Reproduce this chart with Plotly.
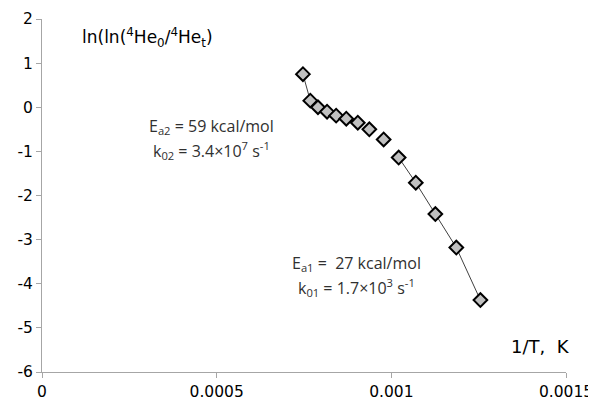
import plotly.graph_objects as go

inv_T = [0.000747, 0.000768, 0.000790, 0.000816, 0.000842, 0.000871, 0.000904,
         0.000937, 0.000978, 0.001021, 0.001070, 0.001126, 0.001186, 0.001255]
ln_ln = [0.75, 0.15, 0.00, -0.10, -0.19, -0.26, -0.35,
         -0.50, -0.73, -1.14, -1.71, -2.42, -3.18, -4.37]

x_ticks = [0, 0.0005, 0.001, 0.0015]
x_tick_text = ["0", "0.0005", "0.001", "0.0015"]
y_ticks = [2, 1, 0, -1, -2, -3, -4, -5, -6]
y_tick_text = ["2", "1", "0", "-1", "-2", "-3", "-4", "-5", "-6"]

fig = go.Figure()
# fit segments
fig.add_trace(go.Scatter(x=inv_T[:2], y=ln_ln[:2], mode="lines",
                         line=dict(color="#404040", width=1), showlegend=False))
fig.add_trace(go.Scatter(x=inv_T[9:], y=ln_ln[9:], mode="lines",
                         line=dict(color="#404040", width=1), showlegend=False))
fig.add_trace(go.Scatter(x=inv_T, y=ln_ln, mode="markers",
                         marker=dict(symbol="diamond", size=10.5, color="#c0c0c0",
                                     line=dict(color="black", width=2)),
                         showlegend=False))

# page has an 8px body margin, so the figure is laid out in page coords - 8
OFF = 8
PL, PR, PT, PB = 42 - OFF, 566 - OFF, 19 - OFF, 372 - OFF
W, H = 588, 393
PW, PH = PR - PL, PB - PT


def px(x):
    return (x - OFF - PL) / PW


def py(y):
    return (PB - (y - OFF)) / PH


axis_font = dict(family="DejaVu Sans", size=15.5, color="black")
fig.update_layout(
    template="none",
    width=W, height=H,
    margin=dict(l=PL, r=W - PR, t=PT, b=H - PB, pad=0),
    paper_bgcolor="white", plot_bgcolor="white",
    xaxis=dict(range=[0, 0.0015], tickvals=x_ticks, ticktext=x_tick_text,
               showgrid=False, zeroline=False, showline=True, linecolor="#a6a6a6",
               linewidth=1, ticks="outside", ticklen=5, tickcolor="#a6a6a6",
               tickfont=axis_font, automargin=False),
    yaxis=dict(range=[-6, 2], tickvals=y_ticks, ticktext=y_tick_text,
               showgrid=False, zeroline=False,
               showline=True, linecolor="#a6a6a6", linewidth=1, ticks="outside",
               ticklen=5, tickcolor="#a6a6a6", tickfont=axis_font, automargin=False),
    font=dict(family="DejaVu Sans", color="black"),
)

ann_font = dict(family="Open Sans", size=16, color="#303030")
fig.add_annotation(xref="paper", yref="paper", x=px(147), y=py(38),
                   text="ln(ln(<sup>4</sup>He<sub>0</sub>/<sup>4</sup>He<sub>t</sub>)",
                   showarrow=False, xanchor="center", yanchor="middle",
                   font=dict(family="DejaVu Sans", size=17, color="black"))
fig.add_annotation(xref="paper", yref="paper", x=px(540), y=py(346),
                   text="1/T,  K", showarrow=False, xanchor="center", yanchor="middle",
                   font=dict(family="DejaVu Sans", size=18, color="black"))

labels = [
    (211, 127, "E<sub>a2</sub> = 59 kcal/mol"),
    (211, 150, "k<sub>02</sub> = 3.4×10<sup>7</sup> s<sup>-1</sup>"),
    (356, 264, "E<sub>a1</sub> =  27 kcal/mol"),
    (356, 287, "k<sub>01</sub> = 1.7×10<sup>3</sup> s<sup>-1</sup>"),
]
for lx, ly, txt in labels:
    fig.add_annotation(xref="paper", yref="paper", x=px(lx), y=py(ly), text=txt,
                       showarrow=False, xanchor="center", yanchor="middle",
                       font=ann_font)

fig.write_html("out.html")
